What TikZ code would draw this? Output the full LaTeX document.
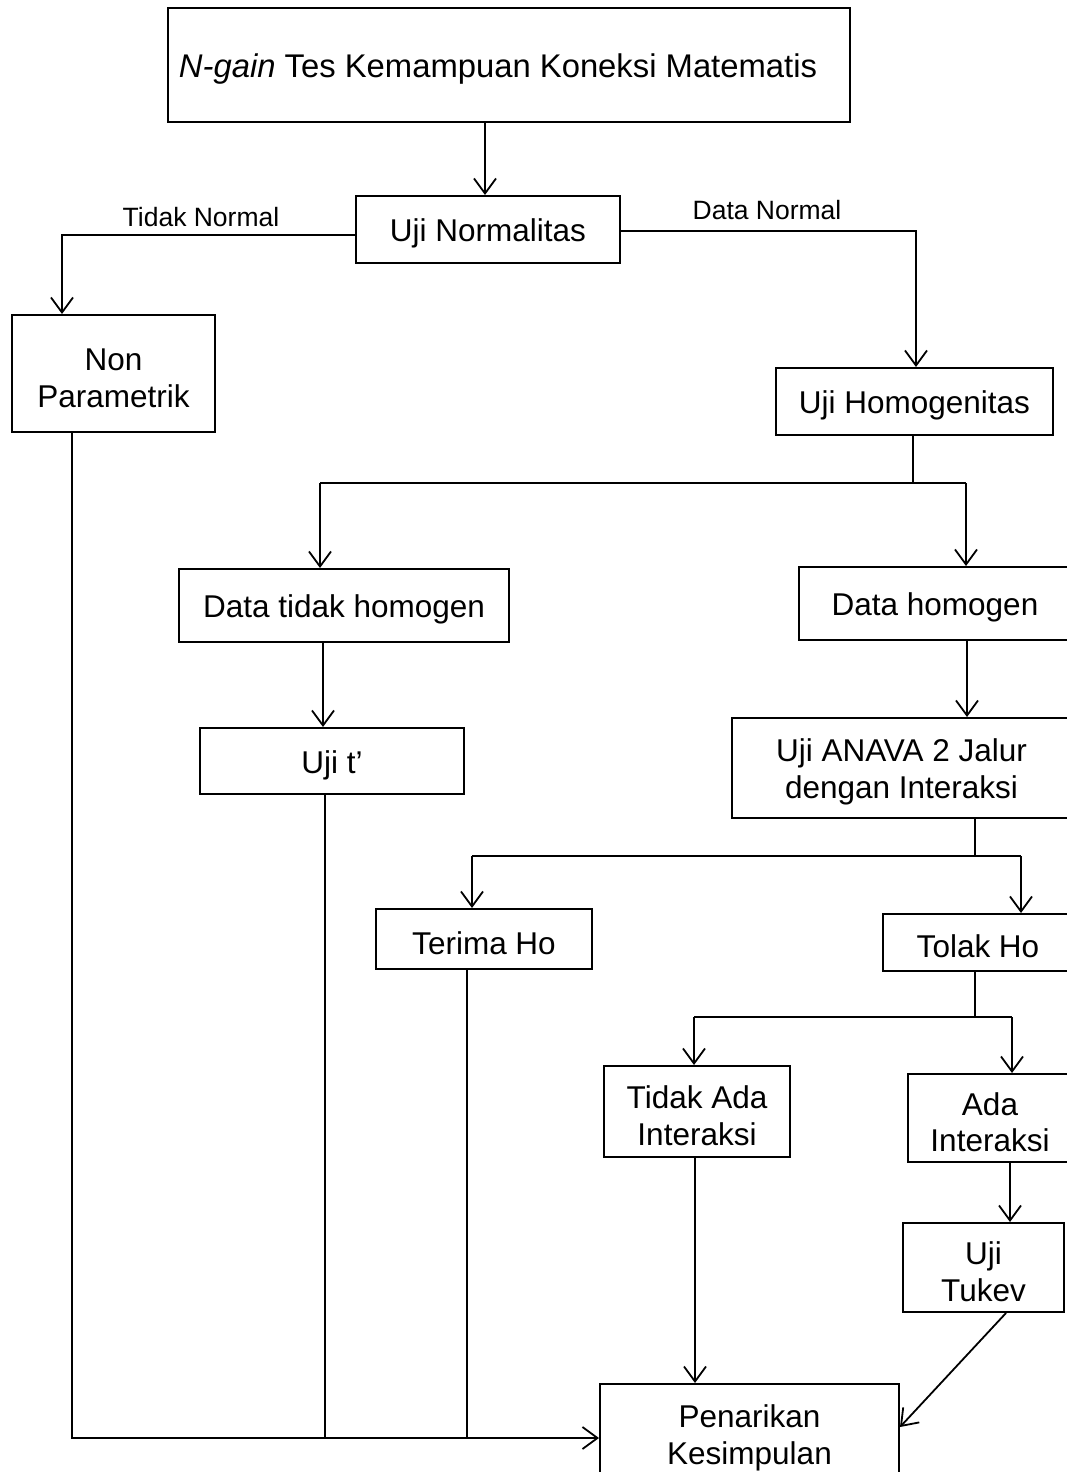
\documentclass[tikz,border=0pt]{standalone}
\usepackage{fontspec}
\setmainfont{Liberation Sans}
\usetikzlibrary{arrows.meta}
% extra height on the first line pushes box text slightly lower
\newcommand\toppad{\rule{0pt}{31pt}}

\begin{document}
\begin{tikzpicture}[x=1pt,y=-1pt,
  box/.style={draw=black, line width=2pt, align=center, inner sep=0pt,
    font=\fontsize{31.5}{36.5}\selectfont},
  lbl/.style={inner sep=0pt, font=\fontsize{26.5}{30}\selectfont},
  link/.style={draw=black, line width=1.8pt},
  thinlink/.style={draw=black, line width=1.2pt},
  arr/.style={link, -{Straight Barb[length=15pt,width=22pt,line width=1.8pt]}}]

\useasboundingbox (0,0) rectangle (1067,1472);
\fill[white] (0,0) rectangle (1067,1472);
\clip (0,0) rectangle (1067,1472);

% boxes
\node[box, minimum width=682pt, minimum height=114pt,
  font=\fontsize{32.8}{37}\selectfont] (title) at (509,65)
  {\toppad\textit{N-gain} Tes Kemampuan Koneksi Matematis\hspace*{22pt}};
\node[box, minimum width=264pt, minimum height=67pt] (norm) at (488,229.5) {\toppad Uji Normalitas};
\node[box, minimum width=203pt, minimum height=117pt] (nonpar) at (113.5,373.5) {\toppad Non\\Parametrik};
\node[box, minimum width=277pt, minimum height=67pt] (homog) at (914.5,401.5) {\toppad Uji Homogenitas};
\node[box, minimum width=330pt, minimum height=73pt] (dth) at (344,605.5) {\toppad Data tidak homogen};
\node[box, minimum width=272pt, minimum height=73pt] (dh) at (935,603.5) {\toppad Data homogen};
\node[box, minimum width=264pt, minimum height=66pt] (ujit) at (332,761) {\toppad Uji t’};
\node[box, minimum width=339pt, minimum height=100pt] (anava) at (901.5,768) {\toppad Uji ANAVA 2 Jalur\\dengan Interaksi};
\node[box, minimum width=216pt, minimum height=60pt] (terima) at (484,939) {\toppad Terima Ho};
\node[box, minimum width=190pt, minimum height=57pt] (tolak) at (978,942.5) {\toppad Tolak Ho};
\node[box, minimum width=186pt, minimum height=91pt] (tidakada) at (697,1111.5) {\toppad Tidak Ada\\Interaksi};
\node[box, minimum width=164pt, minimum height=88pt] (ada) at (990,1118) {\toppad Ada\\Interaksi};
\node[box, minimum width=161pt, minimum height=89pt] (tukev) at (983.5,1267.5) {\toppad Uji\\Tukev};
\node[box, minimum width=299pt, minimum height=99pt] (tarik) at (749.5,1433.5) {\toppad Penarikan\\Kesimpulan};

% branch labels
\node[lbl] (lblTN) at (201,217) {Tidak Normal};
\node[lbl] (lblDN) at (767,210) {Data Normal};

% junction points
\coordinate (tn) at (62,235);
\coordinate (dn) at (916,231);
\coordinate (hs) at (913,483);
\coordinate (hl) at (320,483);
\coordinate (hr) at (966,483);
\coordinate (as) at (975,856);
\coordinate (al) at (472,856);
\coordinate (ar) at (1021,856);
\coordinate (ts) at (975,1017);
\coordinate (tl) at (694,1017);
\coordinate (tr) at (1012,1017);
\coordinate (bl) at (72,1438);

% title to normality test
\draw[arr] (title.south -| 485,0) -- (norm.north -| 485,0);

% normality branches
\draw[arr] (norm.west |- tn) -- (tn) -- (tn |- nonpar.north);
\draw[arr] (norm.east |- dn) -- (dn) -- (dn |- homog.north);

% homogeneity branches
\draw[thinlink] (homog.south -| hs) -- (hs);
\draw[link] (hl) -- (hr);
\draw[arr] (hl) -- (hl |- dth.north);
\draw[arr] (hr) -- (hr |- dh.north);

\draw[arr] (dth.south -| 323,0) -- (ujit.north -| 323,0);
\draw[arr] (dh.south -| 967,0) -- (anava.north -| 967,0);

% ANAVA branches
\draw[thinlink] (anava.south -| as) -- (as);
\draw[link] (al) -- (ar);
\draw[arr] (al) -- (al |- terima.north);
\draw[arr] (ar) -- (ar |- tolak.north);

% rejection branches
\draw[thinlink] (tolak.south -| ts) -- (ts);
\draw[link] (tl) -- (tr);
\draw[arr] (tl) -- (tl |- tidakada.north);
\draw[arr] (tr) -- (tr |- ada.north);

\draw[arr] (ada.south -| 1010,0) -- (tukev.north -| 1010,0);

% into the conclusion
\draw[arr] (tukev.south -| 1006,0) -- (tarik.east |- 0,1427);
\draw[arr] (tidakada.south -| 695,0) -- (tarik.north -| 695,0);
\draw[arr] (nonpar.south -| bl) -- (bl) -- (bl -| tarik.west);
\draw[thinlink] (ujit.south -| 325,0) -- (bl -| 325,0);
\draw[thinlink] (terima.south -| 467,0) -- (bl -| 467,0);

\end{tikzpicture}
\end{document}
